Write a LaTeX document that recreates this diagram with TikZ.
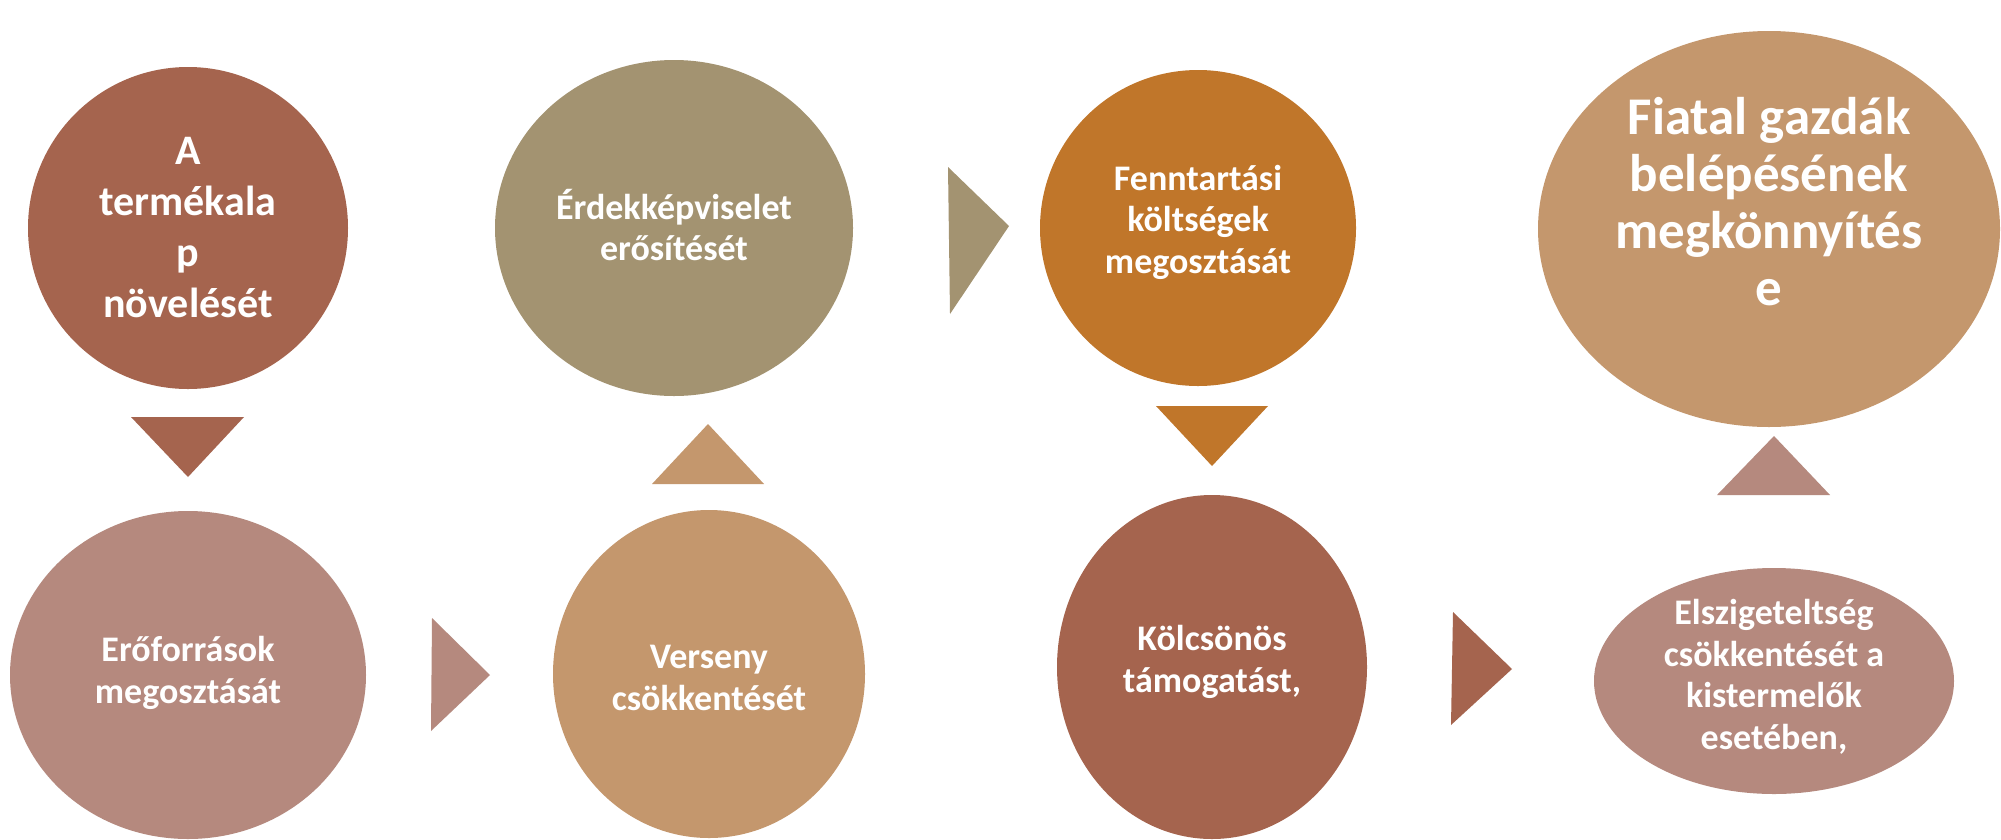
\documentclass[tikz,border=0pt]{standalone}
\usepackage{fontspec}
\setmainfont{Carlito}
\usetikzlibrary{shapes.geometric}
\definecolor{cbrown}{HTML}{A5644E}
\definecolor{colive}{HTML}{A39371}
\definecolor{corange}{HTML}{C0762A}
\definecolor{ctan}{HTML}{C4976D}
\definecolor{cpink}{HTML}{B5897E}
\tikzset{
  blob/.style={ellipse, inner sep=0pt, draw=none},
  lbl/.style={text=white, font=\bfseries\fontsize{36}{41.5}\selectfont, align=center, inner sep=0pt},
  bigl/.style={text=white, font=\bfseries\fontsize{53}{57}\selectfont, align=center, inner sep=0pt},
  midl/.style={text=white, font=\bfseries\fontsize{42}{51}\selectfont, align=center, inner sep=0pt},
}
\begin{document}
\begin{tikzpicture}[x=1pt,y=-1pt]
\useasboundingbox[fill=white] (0,0) rectangle (2001,839);
% ellipses
\node[blob, fill=cbrown, minimum width=320, minimum height=322] (e1) at (188,228) {};
\node[blob, fill=colive, minimum width=358, minimum height=336] (e2) at (674,228) {};
\node[blob, fill=corange, minimum width=316, minimum height=316] (e3) at (1198,228) {};
\node[blob, fill=ctan, minimum width=462, minimum height=396] (e4) at (1769,229) {};
\node[blob, fill=cpink, minimum width=356, minimum height=328] (e5) at (188,675) {};
\node[blob, fill=ctan, minimum width=312, minimum height=328] (e6) at (709,674) {};
\node[blob, fill=cbrown, minimum width=310, minimum height=344] (e7) at (1212,667) {};
\node[blob, fill=cpink, minimum width=360, minimum height=226] (e8) at (1774,681) {};
% texts
\node[midl] (t1) at (e1.center) {A\\termékala\\p\\növelését};
\node[lbl] (t2) at (674,225) {Érdekképviselet\\erősítését};
\node[lbl] (t3) at (1198,222) {Fenntartási\\költségek\\megosztását};
\node[bigl] (t4) at (1769,202) {Fiatal gazdák\\belépésének\\megkönnyítés\\e};
\node[lbl] (t5) at (188,673) {Erőforrások\\megosztását};
\node[lbl] (t6) at (709,678) {Verseny\\csökkentését};
\node[lbl] (t7) at (1212,662) {Kölcsönös\\támogatást,};
\node[lbl] (t8) at (1774,677) {Elszigeteltség\\csökkentését a\\kistermelők\\esetében,};
% triangle connectors
\fill[cbrown] (131,417) -- (244,417) -- (188,477) -- cycle;
\fill[ctan] (652,484) -- (764,484) -- (708,424) -- cycle;
\fill[colive] (948,167) -- (950,314) -- (1009,226) -- cycle;
\fill[corange] (1156,406) -- (1268,406) -- (1212,466) -- cycle;
\fill[cpink] (1717,495) -- (1830,495) -- (1774,436) -- cycle;
\fill[cpink] (432,618) -- (431,731) -- (490,675) -- cycle;
\fill[cbrown] (1453,612) -- (1451,725) -- (1512,669) -- cycle;
\end{tikzpicture}
\end{document}
